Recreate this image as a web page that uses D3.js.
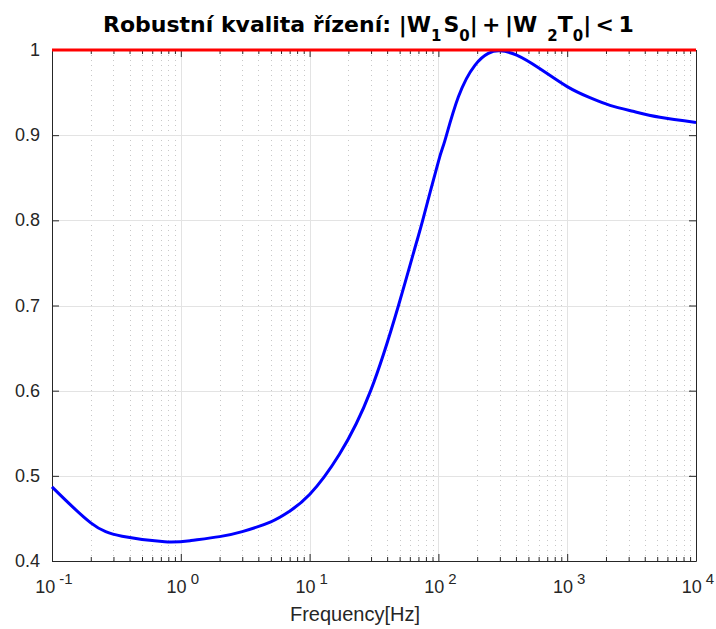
<!DOCTYPE html>
<html>
<head>
<meta charset="utf-8">
<script src="https://cdn.jsdelivr.net/npm/d3@7"></script>
<style>
  body { margin: 0; background: #fff; }
  text { font-family: "Liberation Sans", Arial, sans-serif; fill: #262626; }
  .title { font-family: "DejaVu Sans", sans-serif; font-weight: bold; fill: #000; }
</style>
</head>
<body>
<svg id="chart"></svg>
<script>
// frequency points (Hz) and |W1 S0| + |W2 T0|
var freq = [0.1, 0.2, 0.35, 0.75, 1.2, 2, 3, 5, 7, 10, 17, 29.8, 49, 66.7, 75.5,
            100, 112, 143, 192, 244, 300, 405, 615, 1000, 1500, 2150, 3240, 5250, 10000];
var robust = [0.487, 0.4448, 0.429, 0.4225, 0.424, 0.4286, 0.4345, 0.446, 0.4585, 0.478, 0.525, 0.6, 0.7, 0.771, 0.8,
              0.869, 0.893, 0.945, 0.982, 0.996, 0.999, 0.994, 0.978, 0.957, 0.944, 0.935, 0.928, 0.921, 0.915];
var limit = [1, 1];
var limitFreq = [0.1, 10000];
var yTicks = [0.4, 0.5, 0.6, 0.7, 0.8, 0.9, 1];
var xDecades = [-1, 0, 1, 2, 3, 4];

var width = 716, height = 629;
var pLeft = 52, pRight = 696, pTop = 50, pBottom = 561;

var svg = d3.select('#chart')
  .attr('width', width)
  .attr('height', height);

var x = d3.scaleLog().domain([0.1, 10000]).range([pLeft, pRight]);
var y = d3.scaleLinear().domain([0.4, 1]).range([pBottom, pTop]);

var majorX = xDecades.map(function(e) { return Math.pow(10, e); });
var minorX = [];
xDecades.slice(0, -1).forEach(function(e) {
  for (var m = 2; m < 10; m++) minorX.push(m * Math.pow(10, e));
});

// grid
var grid = svg.append('g');
grid.selectAll('.minor')
  .data(minorX)
  .enter()
  .append('line')
  .attr('x1', function(d) { return Math.round(x(d)) + 0.5; })
  .attr('x2', function(d) { return Math.round(x(d)) + 0.5; })
  .attr('y1', pTop)
  .attr('y2', pBottom)
  .style('stroke', '#c8c8c8')
  .style('stroke-dasharray', '1,4');
grid.selectAll('.majx')
  .data(majorX)
  .enter()
  .append('line')
  .attr('x1', function(d) { return Math.round(x(d)) + 0.5; })
  .attr('x2', function(d) { return Math.round(x(d)) + 0.5; })
  .attr('y1', pTop)
  .attr('y2', pBottom)
  .style('stroke', '#e3e3e3');
grid.selectAll('.majy')
  .data(yTicks)
  .enter()
  .append('line')
  .attr('x1', pLeft)
  .attr('x2', pRight)
  .attr('y1', function(d) { return Math.round(y(d)) + 0.5; })
  .attr('y2', function(d) { return Math.round(y(d)) + 0.5; })
  .style('stroke', '#e3e3e3');

// axes with inward ticks
function styleAxis(g) {
  g.select('.domain').remove();
  g.selectAll('line').style('stroke', '#262626');
  g.selectAll('text').remove();
}
svg.append('g').attr('transform', `translate(0,${pBottom})`)
  .call(d3.axisBottom(x).tickValues(majorX).tickSize(-7)).call(styleAxis);
svg.append('g').attr('transform', `translate(0,${pBottom})`)
  .call(d3.axisBottom(x).tickValues(minorX).tickSize(-4)).call(styleAxis);
svg.append('g').attr('transform', `translate(0,${pTop})`)
  .call(d3.axisTop(x).tickValues(majorX).tickSize(-7)).call(styleAxis);
svg.append('g').attr('transform', `translate(0,${pTop})`)
  .call(d3.axisTop(x).tickValues(minorX).tickSize(-4)).call(styleAxis);
svg.append('g').attr('transform', `translate(${pLeft},0)`)
  .call(d3.axisLeft(y).tickValues(yTicks).tickSize(-7)).call(styleAxis);
svg.append('g').attr('transform', `translate(${pRight},0)`)
  .call(d3.axisRight(y).tickValues(yTicks).tickSize(-7)).call(styleAxis);

// box
svg.append('path')
  .attr('d', `M${pLeft + 0.5},${pTop}V${pBottom + 0.5}H${pRight + 0.5}V${pTop}`)
  .style('fill', 'none')
  .style('stroke', '#262626');

// y labels
svg.selectAll('.ylab')
  .data(yTicks)
  .enter()
  .append('text')
  .attr('x', 40)
  .attr('y', function(d) { return y(d) + 6; })
  .attr('text-anchor', 'end')
  .style('font-size', '18px')
  .text(function(d) { return d === 1 ? '1' : d.toFixed(1); });

// x labels 10^k
var xl = svg.selectAll('.xlab')
  .data(xDecades)
  .enter()
  .append('text')
  .attr('y', 593)
  .style('font-size', '18px');
xl.append('tspan').text('10');
xl.append('tspan')
  .attr('dx', 4)
  .attr('dy', -9)
  .style('font-size', '15px')
  .text(function(d) { return d; });
xl.each(function(d) {
  var w = this.getComputedTextLength();
  d3.select(this).attr('x', x(Math.pow(10, d)) - w / 2);
});

svg.append('text')
  .attr('x', 355)
  .attr('y', 621)
  .attr('text-anchor', 'middle')
  .style('font-size', '20px')
  .text('Frequency[Hz]');

// curves
var line = d3.line()
  .x(function(d) { return x(d[0]); })
  .y(function(d) { return y(d[1]); })
  .curve(d3.curveNatural);

svg.append('path')
  .datum(d3.zip(freq, robust))
  .attr('d', line)
  .style('fill', 'none')
  .style('stroke', '#0000ff')
  .style('stroke-width', 3);

svg.append('path')
  .datum(d3.zip(limitFreq, limit))
  .attr('d', line)
  .style('fill', 'none')
  .style('stroke', '#ff0000')
  .style('stroke-width', 3);

// title with subscripts
var title = svg.append('text')
  .attr('class', 'title')
  .attr('x', 103)
  .attr('y', 32)
  .style('font-size', '22px');
title.append('tspan').text('Robustní kvalita řízení: |W');
title.append('tspan').attr('dy', 9).style('font-size', '15px').text('1');
title.append('tspan').attr('dx', 2).attr('dy', -9).text('S');
title.append('tspan').attr('dy', 9).style('font-size', '15px').text('0');
title.append('tspan').attr('dy', -9).text('|\u2009+\u2009|W');
title.append('tspan').attr('dx', 10).attr('dy', 9).style('font-size', '15px').text('2');
title.append('tspan').attr('dy', -9).text('T');
title.append('tspan').attr('dy', 9).style('font-size', '15px').text('0');
title.append('tspan').attr('dy', -9).text('|\u2009<\u20091');
</script>
</body>
</html>
